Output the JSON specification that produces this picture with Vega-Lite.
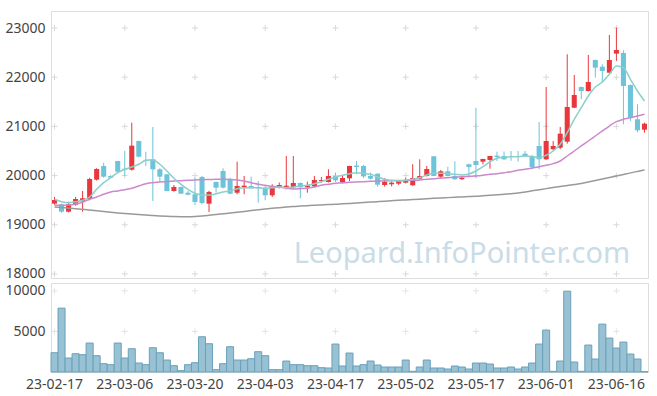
{
  "$schema": "https://vega.github.io/schema/vega-lite/v6.json",
  "padding": {"left": 4, "top": 10, "right": 7, "bottom": 2},
  "background": "white",
  "spacing": 0,
  "config": {
    "view": {"stroke": "#dddddd"},
    "font": "Noto Sans",
    "axis": {"labelFont": "Noto Sans", "labelFontSize": 14, "labelColor": "#444444", "ticks": false, "domain": false, "grid": false, "title": null, "labelPadding": 6},
    "concat": {"spacing": 0}
  },
  "datasets": {
    "px": [
      {"d":"23-02-17","o":19430,"h":19565,"l":19408,"c":19504,"v":2378,"m5":19520,"m20":19396,"m60":19362},
      {"d":"23-02-20","o":19416,"h":19430,"l":19246,"c":19266,"v":7872,"m5":19470,"m20":19396,"m60":19350},
      {"d":"23-02-21","o":19266,"h":19470,"l":19250,"c":19416,"v":1722,"m5":19450,"m20":19400,"m60":19338},
      {"d":"23-02-22","o":19408,"h":19565,"l":19388,"c":19524,"v":2255,"m5":19470,"m20":19423,"m60":19326},
      {"d":"23-02-23","o":19477,"h":19687,"l":19266,"c":19539,"v":2132,"m5":19498,"m20":19457,"m60":19315},
      {"d":"23-02-24","o":19524,"h":19957,"l":19498,"c":19931,"v":3567,"m5":19565,"m20":19518,"m60":19300},
      {"d":"23-02-27","o":19917,"h":20150,"l":19900,"c":20134,"v":2009,"m5":19721,"m20":19565,"m60":19285},
      {"d":"23-02-28","o":20195,"h":20262,"l":19957,"c":19978,"v":1025,"m5":19856,"m20":19620,"m60":19270},
      {"d":"23-03-02","o":19992,"h":20010,"l":19940,"c":19957,"v":902,"m5":19957,"m20":19667,"m60":19255},
      {"d":"23-03-03","o":20297,"h":20300,"l":20059,"c":20079,"v":3567,"m5":20059,"m20":19687,"m60":19240},
      {"d":"23-03-06","o":20140,"h":20500,"l":19990,"c":20120,"v":1722,"m5":20128,"m20":19714,"m60":19228},
      {"d":"23-03-07","o":20120,"h":21075,"l":20100,"c":20608,"v":2870,"m5":20175,"m20":19742,"m60":19218},
      {"d":"23-03-08","o":20703,"h":20710,"l":20370,"c":20384,"v":1107,"m5":20230,"m20":19789,"m60":19208},
      {"d":"23-03-09","o":20320,"h":20486,"l":20195,"c":20300,"v":902,"m5":20311,"m20":19836,"m60":19199},
      {"d":"23-03-10","o":20331,"h":20988,"l":19484,"c":20128,"v":2993,"m5":20324,"m20":19856,"m60":19190},
      {"d":"23-03-13","o":20128,"h":20150,"l":19870,"c":19978,"v":2378,"m5":20230,"m20":19870,"m60":19180},
      {"d":"23-03-14","o":20026,"h":20030,"l":19680,"c":19687,"v":1476,"m5":20094,"m20":19876,"m60":19172},
      {"d":"23-03-15","o":19687,"h":19809,"l":19673,"c":19768,"v":779,"m5":19945,"m20":19890,"m60":19166},
      {"d":"23-03-16","o":19768,"h":19775,"l":19625,"c":19632,"v":164,"m5":19823,"m20":19897,"m60":19164},
      {"d":"23-03-17","o":19652,"h":19687,"l":19600,"c":19612,"v":902,"m5":19721,"m20":19904,"m60":19165},
      {"d":"23-03-20","o":19620,"h":19957,"l":19402,"c":19463,"v":1148,"m5":19640,"m20":19910,"m60":19170},
      {"d":"23-03-21","o":19972,"h":19992,"l":19416,"c":19443,"v":4346,"m5":19605,"m20":19917,"m60":19180},
      {"d":"23-03-22","o":19429,"h":19690,"l":19260,"c":19667,"v":3485,"m5":19605,"m20":19920,"m60":19193},
      {"d":"23-03-23","o":19870,"h":19880,"l":19652,"c":19754,"v":287,"m5":19632,"m20":19924,"m60":19207},
      {"d":"23-03-24","o":20094,"h":20148,"l":19740,"c":19754,"v":1025,"m5":19667,"m20":19924,"m60":19222},
      {"d":"23-03-27","o":19925,"h":19957,"l":19620,"c":19632,"v":3116,"m5":19687,"m20":19920,"m60":19238},
      {"d":"23-03-28","o":19652,"h":20283,"l":19620,"c":19789,"v":1476,"m5":19734,"m20":19911,"m60":19254},
      {"d":"23-03-29","o":19768,"h":19992,"l":19620,"c":19795,"v":1476,"m5":19754,"m20":19890,"m60":19270},
      {"d":"23-03-30","o":19789,"h":19978,"l":19760,"c":19742,"v":1640,"m5":19754,"m20":19856,"m60":19288},
      {"d":"23-03-31","o":19768,"h":19890,"l":19449,"c":19742,"v":2501,"m5":19748,"m20":19823,"m60":19304},
      {"d":"23-04-03","o":19754,"h":19789,"l":19498,"c":19599,"v":2009,"m5":19742,"m20":19803,"m60":19320},
      {"d":"23-04-04","o":19599,"h":19823,"l":19565,"c":19789,"v":287,"m5":19754,"m20":19782,"m60":19334},
      {"d":"23-04-05","o":19754,"h":19860,"l":19740,"c":19809,"v":287,"m5":19768,"m20":19768,"m60":19348},
      {"d":"23-04-06","o":19748,"h":20398,"l":19720,"c":19795,"v":1353,"m5":19754,"m20":19742,"m60":19360},
      {"d":"23-04-07","o":19762,"h":20398,"l":19734,"c":19850,"v":902,"m5":19768,"m20":19728,"m60":19370},
      {"d":"23-04-10","o":19850,"h":19860,"l":19538,"c":19762,"v":902,"m5":19789,"m20":19734,"m60":19380},
      {"d":"23-04-11","o":19762,"h":19876,"l":19652,"c":19803,"v":779,"m5":19803,"m20":19742,"m60":19388},
      {"d":"23-04-12","o":19782,"h":19992,"l":19760,"c":19911,"v":779,"m5":19836,"m20":19768,"m60":19396},
      {"d":"23-04-13","o":19890,"h":19972,"l":19856,"c":19911,"v":533,"m5":19876,"m20":19803,"m60":19403},
      {"d":"23-04-14","o":19870,"h":20128,"l":19860,"c":19992,"v":492,"m5":19925,"m20":19823,"m60":19410},
      {"d":"23-04-17","o":19992,"h":20059,"l":19870,"c":19904,"v":3444,"m5":19972,"m20":19843,"m60":19416},
      {"d":"23-04-18","o":19870,"h":19990,"l":19840,"c":19951,"v":738,"m5":20006,"m20":19856,"m60":19425},
      {"d":"23-04-19","o":19945,"h":20200,"l":19890,"c":20195,"v":2337,"m5":20039,"m20":19863,"m60":19434},
      {"d":"23-04-20","o":20202,"h":20297,"l":20026,"c":20175,"v":738,"m5":20059,"m20":19870,"m60":19443},
      {"d":"23-04-21","o":20195,"h":20220,"l":19950,"c":19985,"v":902,"m5":20047,"m20":19876,"m60":19452},
      {"d":"23-04-24","o":19992,"h":20060,"l":19920,"c":19937,"v":1353,"m5":20026,"m20":19883,"m60":19461},
      {"d":"23-04-25","o":20039,"h":20045,"l":19775,"c":19815,"v":861,"m5":19972,"m20":19890,"m60":19470},
      {"d":"23-04-26","o":19809,"h":19950,"l":19775,"c":19876,"v":615,"m5":19925,"m20":19893,"m60":19479},
      {"d":"23-04-27","o":19823,"h":19880,"l":19780,"c":19856,"v":615,"m5":19904,"m20":19897,"m60":19489},
      {"d":"23-04-28","o":19836,"h":19900,"l":19810,"c":19890,"v":615,"m5":19890,"m20":19900,"m60":19498},
      {"d":"23-05-02","o":19856,"h":19957,"l":19840,"c":19890,"v":1476,"m5":19911,"m20":19902,"m60":19505},
      {"d":"23-05-03","o":19803,"h":20230,"l":19790,"c":19951,"v":82,"m5":19925,"m20":19904,"m60":19513},
      {"d":"23-05-04","o":19937,"h":20331,"l":19920,"c":19992,"v":615,"m5":19957,"m20":19910,"m60":19521},
      {"d":"23-05-08","o":19992,"h":20195,"l":19980,"c":20134,"v":1476,"m5":20012,"m20":19925,"m60":19529},
      {"d":"23-05-09","o":20392,"h":20395,"l":19990,"c":19992,"v":492,"m5":20047,"m20":19937,"m60":19537},
      {"d":"23-05-10","o":19978,"h":20115,"l":19940,"c":20087,"v":492,"m5":20047,"m20":19951,"m60":19545},
      {"d":"23-05-11","o":20087,"h":20181,"l":19985,"c":19992,"v":369,"m5":20039,"m20":19958,"m60":19552},
      {"d":"23-05-12","o":19992,"h":20290,"l":19915,"c":19925,"v":738,"m5":20026,"m20":19965,"m60":19559},
      {"d":"23-05-15","o":19925,"h":19990,"l":19915,"c":19957,"v":615,"m5":20012,"m20":19978,"m60":19566},
      {"d":"23-05-16","o":20230,"h":20240,"l":19957,"c":20175,"v":369,"m5":20033,"m20":19985,"m60":19573},
      {"d":"23-05-17","o":20297,"h":21380,"l":19957,"c":20216,"v":1107,"m5":20094,"m20":19992,"m60":19580},
      {"d":"23-05-18","o":20283,"h":20340,"l":20230,"c":20338,"v":1107,"m5":20181,"m20":20006,"m60":19590},
      {"d":"23-05-19","o":20317,"h":20400,"l":20140,"c":20398,"v":984,"m5":20277,"m20":20026,"m60":19600},
      {"d":"23-05-22","o":20405,"h":20486,"l":20297,"c":20378,"v":492,"m5":20352,"m20":20039,"m60":19610},
      {"d":"23-05-23","o":20398,"h":20490,"l":20320,"c":20331,"v":492,"m5":20372,"m20":20059,"m60":19620},
      {"d":"23-05-24","o":20400,"h":20500,"l":20300,"c":20392,"v":615,"m5":20385,"m20":20079,"m60":19632},
      {"d":"23-05-25","o":20398,"h":20500,"l":20283,"c":20385,"v":369,"m5":20385,"m20":20108,"m60":19645},
      {"d":"23-05-26","o":20445,"h":20500,"l":20380,"c":20392,"v":615,"m5":20398,"m20":20128,"m60":19667},
      {"d":"23-05-30","o":20398,"h":20420,"l":20128,"c":20175,"v":1107,"m5":20385,"m20":20155,"m60":19690},
      {"d":"23-05-31","o":20602,"h":21090,"l":20128,"c":20331,"v":3444,"m5":20365,"m20":20181,"m60":19712},
      {"d":"23-06-01","o":20331,"h":21801,"l":20320,"c":20703,"v":5166,"m5":20413,"m20":20209,"m60":19735},
      {"d":"23-06-02","o":20535,"h":20703,"l":20514,"c":20602,"v":82,"m5":20500,"m20":20243,"m60":19757},
      {"d":"23-06-05","o":20567,"h":20988,"l":20540,"c":20852,"v":1353,"m5":20636,"m20":20297,"m60":19780},
      {"d":"23-06-07","o":20689,"h":22466,"l":20649,"c":21395,"v":9963,"m5":20872,"m20":20398,"m60":19800},
      {"d":"23-06-08","o":21380,"h":22045,"l":21370,"c":21639,"v":1230,"m5":21145,"m20":20500,"m60":19820},
      {"d":"23-06-09","o":21801,"h":21810,"l":21551,"c":21720,"v":82,"m5":21380,"m20":20602,"m60":19840},
      {"d":"23-06-12","o":21720,"h":22452,"l":21710,"c":21903,"v":3321,"m5":21618,"m20":20703,"m60":19870},
      {"d":"23-06-13","o":22350,"h":22360,"l":21990,"c":22194,"v":1599,"m5":21801,"m20":20805,"m60":19900},
      {"d":"23-06-14","o":22214,"h":22263,"l":21889,"c":22127,"v":5904,"m5":21903,"m20":20907,"m60":19930},
      {"d":"23-06-15","o":22092,"h":22858,"l":22080,"c":22350,"v":4182,"m5":22060,"m20":21008,"m60":19960},
      {"d":"23-06-16","o":22479,"h":23007,"l":22330,"c":22553,"v":2952,"m5":22228,"m20":21096,"m60":19990},
      {"d":"23-06-19","o":22493,"h":22547,"l":21043,"c":21822,"v":3690,"m5":22194,"m20":21145,"m60":20022},
      {"d":"23-06-20","o":21842,"h":21850,"l":21110,"c":21177,"v":2214,"m5":21958,"m20":21177,"m60":20055},
      {"d":"23-06-21","o":21145,"h":21450,"l":20880,"c":20921,"v":1599,"m5":21720,"m20":21212,"m60":20085},
      {"d":"23-06-22","o":20933,"h":21076,"l":20872,"c":21055,"v":40,"m5":21517,"m20":21246,"m60":20114}
    ],
    "gp": [
      {"d":"23-02-17","y":18000},{"d":"23-02-17","y":19000},{"d":"23-02-17","y":20000},{"d":"23-02-17","y":21000},{"d":"23-02-17","y":22000},{"d":"23-02-17","y":23000},
      {"d":"23-03-06","y":18000},{"d":"23-03-06","y":19000},{"d":"23-03-06","y":20000},{"d":"23-03-06","y":21000},{"d":"23-03-06","y":22000},{"d":"23-03-06","y":23000},
      {"d":"23-03-20","y":18000},{"d":"23-03-20","y":19000},{"d":"23-03-20","y":20000},{"d":"23-03-20","y":21000},{"d":"23-03-20","y":22000},{"d":"23-03-20","y":23000},
      {"d":"23-04-03","y":18000},{"d":"23-04-03","y":19000},{"d":"23-04-03","y":20000},{"d":"23-04-03","y":21000},{"d":"23-04-03","y":22000},{"d":"23-04-03","y":23000},
      {"d":"23-04-17","y":18000},{"d":"23-04-17","y":19000},{"d":"23-04-17","y":20000},{"d":"23-04-17","y":21000},{"d":"23-04-17","y":22000},{"d":"23-04-17","y":23000},
      {"d":"23-05-02","y":18000},{"d":"23-05-02","y":19000},{"d":"23-05-02","y":20000},{"d":"23-05-02","y":21000},{"d":"23-05-02","y":22000},{"d":"23-05-02","y":23000},
      {"d":"23-05-17","y":18000},{"d":"23-05-17","y":19000},{"d":"23-05-17","y":20000},{"d":"23-05-17","y":21000},{"d":"23-05-17","y":22000},{"d":"23-05-17","y":23000},
      {"d":"23-06-01","y":18000},{"d":"23-06-01","y":19000},{"d":"23-06-01","y":20000},{"d":"23-06-01","y":21000},{"d":"23-06-01","y":22000},{"d":"23-06-01","y":23000},
      {"d":"23-06-16","y":18000},{"d":"23-06-16","y":19000},{"d":"23-06-16","y":20000},{"d":"23-06-16","y":21000},{"d":"23-06-16","y":22000},{"d":"23-06-16","y":23000}
    ],
    "gv": [
      {"d":"23-02-17","y":5000},{"d":"23-02-17","y":10000},
      {"d":"23-03-06","y":5000},{"d":"23-03-06","y":10000},
      {"d":"23-03-20","y":5000},{"d":"23-03-20","y":10000},
      {"d":"23-04-03","y":5000},{"d":"23-04-03","y":10000},
      {"d":"23-04-17","y":5000},{"d":"23-04-17","y":10000},
      {"d":"23-05-02","y":5000},{"d":"23-05-02","y":10000},
      {"d":"23-05-17","y":5000},{"d":"23-05-17","y":10000},
      {"d":"23-06-01","y":5000},{"d":"23-06-01","y":10000},
      {"d":"23-06-16","y":5000},{"d":"23-06-16","y":10000}
    ]
  },
  "vconcat": [
    {
      "width": 597,
      "height": 267,
      "encoding": {
        "x": {"field": "d", "type": "ordinal", "sort": null,
          "scale": {"paddingInner": 0, "paddingOuter": 0, "domain": ["23-02-17","23-02-20","23-02-21","23-02-22","23-02-23","23-02-24","23-02-27","23-02-28","23-03-02","23-03-03","23-03-06","23-03-07","23-03-08","23-03-09","23-03-10","23-03-13","23-03-14","23-03-15","23-03-16","23-03-17","23-03-20","23-03-21","23-03-22","23-03-23","23-03-24","23-03-27","23-03-28","23-03-29","23-03-30","23-03-31","23-04-03","23-04-04","23-04-05","23-04-06","23-04-07","23-04-10","23-04-11","23-04-12","23-04-13","23-04-14","23-04-17","23-04-18","23-04-19","23-04-20","23-04-21","23-04-24","23-04-25","23-04-26","23-04-27","23-04-28","23-05-02","23-05-03","23-05-04","23-05-08","23-05-09","23-05-10","23-05-11","23-05-12","23-05-15","23-05-16","23-05-17","23-05-18","23-05-19","23-05-22","23-05-23","23-05-24","23-05-25","23-05-26","23-05-30","23-05-31","23-06-01","23-06-02","23-06-05","23-06-07","23-06-08","23-06-09","23-06-12","23-06-13","23-06-14","23-06-15","23-06-16","23-06-19","23-06-20","23-06-21","23-06-22"]},
          "axis": null}
      },
      "layer": [
        {
          "data": {"values": [{"t": "Leopard.InfoPointer.com", "d": "23-05-15", "y": 18230}]},
          "mark": {"type": "text", "fontSize": 29, "font": "Noto Sans", "color": "#c9dce7", "align": "center", "baseline": "alphabetic"},
          "encoding": {"text": {"field": "t"}, "y": {"field": "y", "type": "quantitative", "scale": {"domain": [17918, 23346], "nice": false, "zero": false}}}
        },
        {
          "data": {"name": "gp"},
          "mark": {"type": "point", "shape": "M-1,0L1,0M0,-1L0,1", "filled": false, "size": 36, "stroke": "#d9d9d9", "strokeWidth": 1, "opacity": 1},
          "encoding": {"y": {"field": "y", "type": "quantitative"}}
        },
        {
          "data": {"name": "px"},
          "mark": {"type": "rule", "strokeWidth": 1},
          "encoding": {
            "y": {"field": "l", "type": "quantitative", "scale": {"domain": [17918, 23346], "nice": false, "zero": false}, "axis": {"values": [18000, 19000, 20000, 21000, 22000, 23000], "format": "d"}},
            "y2": {"field": "h"},
            "color": {"condition": {"test": "datum.c >= datum.o", "value": "#e8383d"}, "value": "#6cc3da"}
          }
        },
        {
          "data": {"name": "px"},
          "mark": {"type": "bar", "width": {"band": 0.72}},
          "encoding": {
            "y": {"field": "o", "type": "quantitative"},
            "y2": {"field": "c"},
            "color": {"condition": {"test": "datum.c >= datum.o", "value": "#e8383d"}, "value": "#6cc3da"}
          }
        },
        {
          "data": {"name": "px"},
          "mark": {"type": "line", "interpolate": "monotone", "stroke": "#999999", "strokeWidth": 1.5},
          "encoding": {"y": {"field": "m60", "type": "quantitative"}}
        },
        {
          "data": {"name": "px"},
          "mark": {"type": "line", "interpolate": "monotone", "stroke": "#cc88cc", "strokeWidth": 1.5},
          "encoding": {"y": {"field": "m20", "type": "quantitative"}}
        },
        {
          "data": {"name": "px"},
          "mark": {"type": "line", "interpolate": "monotone", "stroke": "#8dcfc8", "strokeWidth": 1.5},
          "encoding": {"y": {"field": "m5", "type": "quantitative"}}
        }
      ]
    },
    {
      "width": 597,
      "height": 89,
      "encoding": {
        "x": {"field": "d", "type": "ordinal", "sort": null,
          "scale": {"paddingInner": 0, "paddingOuter": 0, "domain": ["23-02-17","23-02-20","23-02-21","23-02-22","23-02-23","23-02-24","23-02-27","23-02-28","23-03-02","23-03-03","23-03-06","23-03-07","23-03-08","23-03-09","23-03-10","23-03-13","23-03-14","23-03-15","23-03-16","23-03-17","23-03-20","23-03-21","23-03-22","23-03-23","23-03-24","23-03-27","23-03-28","23-03-29","23-03-30","23-03-31","23-04-03","23-04-04","23-04-05","23-04-06","23-04-07","23-04-10","23-04-11","23-04-12","23-04-13","23-04-14","23-04-17","23-04-18","23-04-19","23-04-20","23-04-21","23-04-24","23-04-25","23-04-26","23-04-27","23-04-28","23-05-02","23-05-03","23-05-04","23-05-08","23-05-09","23-05-10","23-05-11","23-05-12","23-05-15","23-05-16","23-05-17","23-05-18","23-05-19","23-05-22","23-05-23","23-05-24","23-05-25","23-05-26","23-05-30","23-05-31","23-06-01","23-06-02","23-06-05","23-06-07","23-06-08","23-06-09","23-06-12","23-06-13","23-06-14","23-06-15","23-06-16","23-06-19","23-06-20","23-06-21","23-06-22"]},
          "axis": {"values": ["23-02-17","23-03-06","23-03-20","23-04-03","23-04-17","23-05-02","23-05-17","23-06-01","23-06-16"], "labelAngle": 0, "labelPadding": 5}}
      },
      "layer": [
        {
          "data": {"name": "gv"},
          "mark": {"type": "point", "shape": "M-1,0L1,0M0,-1L0,1", "filled": false, "size": 36, "stroke": "#d9d9d9", "strokeWidth": 1},
          "encoding": {"y": {"field": "y", "type": "quantitative", "scale": {"domain": [0, 10970], "nice": false}, "axis": {"values": [5000, 10000], "format": "d"}}}
        },
        {
          "data": {"name": "px"},
          "mark": {"type": "bar", "fill": "#98c1d3", "stroke": "#6ba1ba", "strokeWidth": 1},
          "encoding": {"y": {"field": "v", "type": "quantitative"}}
        }
      ]
    }
  ]
}
